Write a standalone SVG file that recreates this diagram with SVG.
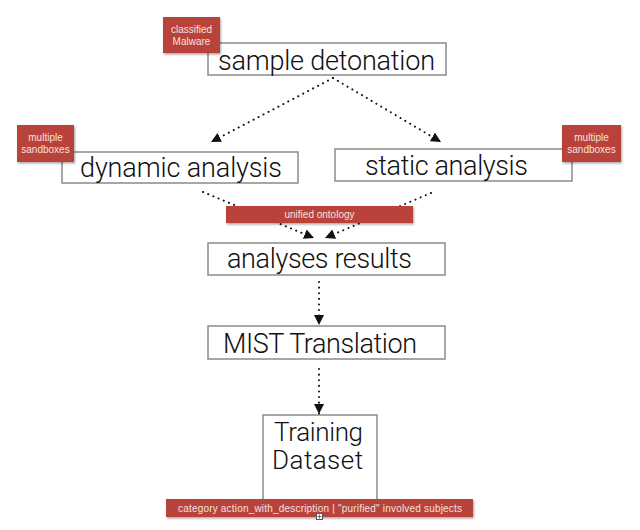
<svg xmlns="http://www.w3.org/2000/svg" width="640" height="530" viewBox="0 0 640 530">
<defs>
<style>
.box{fill:#fff;stroke:#8a8a8a;stroke-width:1.5}
.big{font-family:Roboto,"Liberation Sans",sans-serif;font-weight:300;font-size:27px;fill:#111;text-anchor:middle}
.tr{font-size:26px}
.tag{fill:#b9433a;filter:url(#sh)}
.tt{font-family:"Liberation Sans",Arial,sans-serif;font-size:10px;fill:#f3e2df;text-anchor:middle}
.dot{fill:none;stroke:#111;stroke-width:2;stroke-linecap:round;stroke-dasharray:0.1 5.5}
</style>
<filter id="sh" x="-10%" y="-20%" width="130%" height="150%">
<feDropShadow dx="1" dy="1.5" stdDeviation="1.2" flood-color="#000" flood-opacity="0.35"/>
</filter>
<marker id="ah" markerUnits="userSpaceOnUse" markerWidth="10" markerHeight="10" refX="10" refY="5" orient="auto">
<path d="M0,0 L10,5 L0,10 z" fill="#111"/>
</marker>
</defs>
<rect width="640" height="530" fill="#fff"/>
<g id="connectors">
<line class="dot" x1="333" y1="78" x2="211" y2="142" marker-end="url(#ah)"/>
<line class="dot" x1="333" y1="78" x2="441" y2="142" marker-end="url(#ah)"/>
<line class="dot" x1="203" y1="192" x2="314" y2="238" marker-end="url(#ah)"/>
<line class="dot" x1="431" y1="193" x2="325" y2="238" marker-end="url(#ah)"/>
<line class="dot" x1="319" y1="282" x2="319" y2="325" marker-end="url(#ah)"/>
<line class="dot" x1="319" y1="369" x2="319" y2="414" marker-end="url(#ah)"/>
</g>
<g id="sample-detonation">
<rect class="box" x="208" y="43" width="238" height="32"/>
<text class="big" x="326.5" y="70" textLength="217">sample detonation</text>
</g>
<g id="classified-malware">
<rect class="tag" x="163" y="17" width="57" height="36"/>
<text class="tt" x="191.5" y="33">classified</text>
<text class="tt" x="191.5" y="45">Malware</text>
</g>
<g id="dynamic-analysis">
<rect class="box" x="62" y="152" width="236" height="31"/>
<text class="big" x="181" y="177" textLength="202">dynamic analysis</text>
</g>
<g id="sandboxes-left">
<rect class="tag" x="17" y="125" width="57" height="37"/>
<text class="tt" x="45.5" y="141">multiple</text>
<text class="tt" x="45.5" y="153">sandboxes</text>
</g>
<g id="static-analysis">
<rect class="box" x="335" y="149" width="237" height="32"/>
<text class="big" x="446.5" y="175" textLength="163">static analysis</text>
</g>
<g id="sandboxes-right">
<rect class="tag" x="562" y="125" width="59" height="37"/>
<text class="tt" x="591.5" y="141">multiple</text>
<text class="tt" x="591.5" y="153">sandboxes</text>
</g>
<g id="unified-ontology">
<rect class="tag" x="226" y="206" width="187" height="17"/>
<text class="tt" x="319.5" y="218" font-size="10.5px">unified ontology</text>
</g>
<g id="analyses-results">
<rect class="box" x="208" y="243" width="237" height="32"/>
<text class="big" x="319.5" y="268" textLength="185">analyses results</text>
</g>
<g id="mist-translation">
<rect class="box" x="208" y="326" width="237" height="33"/>
<text class="big" x="320" y="353" textLength="194">MIST Translation</text>
</g>
<g id="training-dataset">
<rect class="box" x="263" y="415" width="114" height="86"/>
<text class="big tr" x="318.5" y="441" textLength="89">Training</text>
<text class="big tr" x="317.5" y="469" textLength="91">Dataset</text>
</g>
<g id="output-label">
<rect class="tag" x="166" y="499" width="307" height="18"/>
<text class="tt" x="320" y="512" font-size="11px" textLength="284">category action_with_description |  "purified" involved subjects</text>
<rect x="316.5" y="513.5" width="6" height="6" fill="#fff" stroke="#555" stroke-width="1"/>
<path d="M319.5,514.5 V518.5 M317.5,516.5 H321.5" stroke="#555" stroke-width="0.8"/>
</g>
</svg>
